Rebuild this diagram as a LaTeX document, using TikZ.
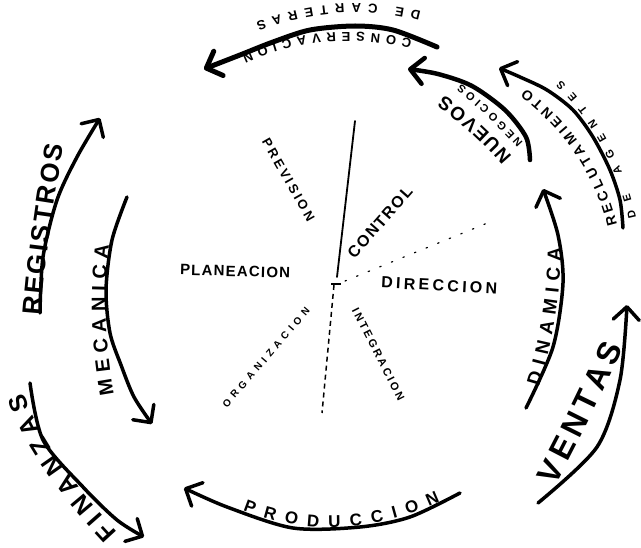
\documentclass[tikz,border=0pt]{standalone}
\usepackage{fontspec}
\setmainfont{Liberation Sans}
\usetikzlibrary{arrows.meta,decorations.text,calc}
% curve from #1 through #2 to #3 (quadratic-like)
\newcommand\tpath[3]{(#1) .. controls ($4/3*(#2)-1/3*(#3)$) and ($4/3*(#2)-1/3*(#1)$) .. (#3)}
\begin{document}
\begin{tikzpicture}[x=1pt,y=-1pt,
  curvearrow/.style={line width=#1, line cap=round, line join=round,
    -{Straight Barb[length=13pt,width=26pt,round]}},
  lbl/.style n args={2}{decorate, decoration={text along path,
    text align=fit to path, text={|\bfseries#1|#2}}}]
\fill[white] (0,0) rectangle (641,548);
\useasboundingbox (0,0) rectangle (641,548);

% ---- arcs ----
\draw[curvearrow=5pt] plot[smooth] coordinates {(437,47) (393,30) (355,26) (310,30) (273,42) (240,55) (204,69)};
\draw[curvearrow=4.5pt] plot[smooth] coordinates {(530,160) (526,137) (505,110) (472,86) (438,74) (408,69)};
\draw[curvearrow=3.5pt] plot[smooth] coordinates {(623,228) (620,200) (610,170) (593,137) (573,110) (547,90) (520,77) (499,68)};
\draw[curvearrow=3.5pt] plot[smooth] coordinates {(40,313) (43,257) (57,200) (77,157) (100,118)};
\draw[curvearrow=3.5pt] plot[smooth] coordinates {(127,197) (112,240) (106,290) (110,333) (121,365) (134,397) (152,424)};
\draw[curvearrow=3.5pt] plot[smooth] coordinates {(30,383) (43,440) (83,487) (117,520) (144,537)};
\draw[curvearrow=3.5pt] plot[smooth] coordinates {(460,493) (410,517) (360,527) (293,528) (227,507) (184,488)};
\draw[curvearrow=3.5pt] plot[smooth] coordinates {(526,408) (553,347) (563,283) (558,235) (543,189)};
\draw[curvearrow=3.5pt] plot[smooth] coordinates {(538,503) (597,447) (620,380) (627,305)};

% ---- labels along arcs ----
\path[lbl={\fontsize{13}{13}\selectfont}{CONSERVACION}] \tpath{412,40}{325,33}{242,55};
\path[lbl={\fontsize{13}{13}\selectfont}{DE CARTERAS}] \tpath{421,12}{340,4}{256,22};
\path[lbl={\fontsize{11}{11}\selectfont}{NEGOCIOS}] \tpath{523,143}{491,110}{461,84};
\path[lbl={\fontsize{19}{19}\selectfont}{NUEVOS}] \tpath{512,157}{480,124}{444,95};
\path[lbl={\fontsize{14}{14}\selectfont}{RECLUTAMIENTO}] \tpath{617,225}{584,150}{526,89};
\path[lbl={\fontsize{11}{11}\selectfont}{DE AGENTES}] \tpath{636,218}{608,142}{561,80};
\path[lbl={\fontsize{26}{26}\selectfont}{REGISTROS}] \tpath{41,316}{50,232}{64,145};
\path[lbl={\fontsize{20}{20}\selectfont}{MECANICA}] \tpath{114,394}{106,320}{109,245};
\path[lbl={\fontsize{25}{25}\selectfont}{FINANZAS}] \tpath{118,532}{56,456}{24,393};
\path[lbl={\fontsize{17}{17}\selectfont}{PRODUCCION}] \tpath{243,510}{340,527}{440,502};
\path[lbl={\fontsize{19}{19}\selectfont}{DINAMICA}] \tpath{539,386}{555,318}{561,248};
\path[lbl={\fontsize{32}{32}\selectfont}{VENTAS}] \tpath{555,486}{590,418}{623,348};

% ---- centre ----
\draw[line width=1.8pt, line cap=round] (355,121) -- (337,277);
\draw[line width=1.5pt, dash pattern=on 5pt off 4pt] (334,285) -- (322,413);
\draw[line width=1.2pt, line cap=round, dash pattern=on 1.5pt off 11pt] (345,281) -- (490,222);
\draw[line width=1.2pt] (331,284) -- (341,284);

\path[lbl={\fontsize{13}{13}\selectfont}{PREVISION}] (261.5,141.7) -- (307.5,222.3);
\path[lbl={\fontsize{15}{15}\selectfont}{PLANEACION}] (180,275) -- (290,278);
\path[lbl={\fontsize{16}{16}\selectfont}{CONTROL}] (354.5,259.5) -- (413.5,192.5);
\path[lbl={\fontsize{16}{16}\selectfont}{DIRECCION}] (381,288) -- (497,294);
\path[lbl={\fontsize{11}{11}\selectfont}{INTEGRACION}] (351.6,310.2) -- (398.2,401.4);
\path[lbl={\fontsize{10}{10}\selectfont}{ORGANIZACION}] (227,408.3) -- (310.3,311.3);
\end{tikzpicture}
\end{document}
